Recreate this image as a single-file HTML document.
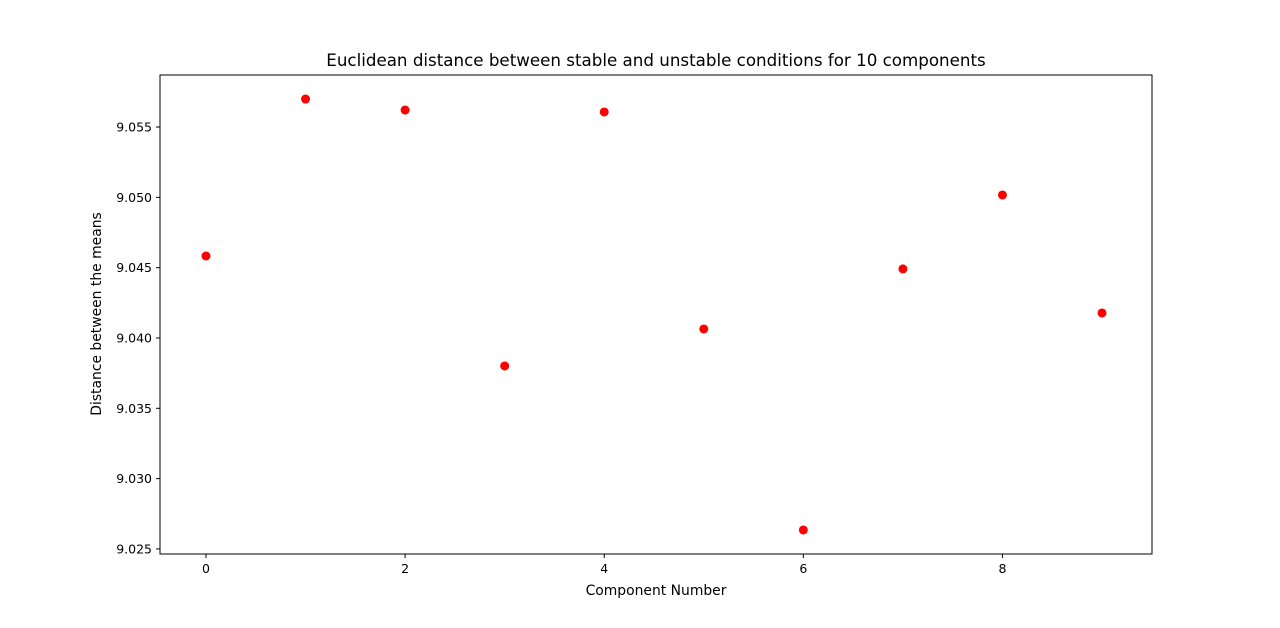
<!DOCTYPE html>
<html><head><meta charset="utf-8"><style>
body{margin:0;background:#fff;font-family:"Liberation Sans","DejaVu Sans",sans-serif;}
svg text{font-family:"DejaVu Sans","Liberation Sans",sans-serif;}
</style></head><body>
<svg id="chart" width="1280" height="623" xmlns="http://www.w3.org/2000/svg">
<rect width="1280" height="623" fill="#fff"/>
<text x="656" y="66" text-anchor="middle" font-size="16.7">Euclidean distance between stable and unstable conditions for 10 components</text>
<g id="plot"></g>
<rect x="160" y="75" width="992" height="479" fill="none" stroke="#000" stroke-width="1"/>
<text x="656" y="595" text-anchor="middle" font-size="13.9">Component Number</text>
<text transform="translate(101,314) rotate(-90)" text-anchor="middle" font-size="13.9">Distance between the means</text>
</svg>
<script>
const components=[0,1,2,3,4,5,6,7,8,9];
const distances=[9.04583,9.05699,9.05621,9.03801,9.05607,9.04064,9.02635,9.04491,9.05017,9.04178];
const xTicks=[0,2,4,6,8];
const yTicks=[9.025,9.030,9.035,9.040,9.045,9.050,9.055];
const yTickLabels=["9.025","9.030","9.035","9.040","9.045","9.050","9.055"];
const L=160,R=1152,T=75,B=554;
const xmin=-0.462,xmax=9.502;
const ymin=9.02464,ymax=9.0587;
const sx=v=>L+(v-xmin)/(xmax-xmin)*(R-L);
const sy=v=>B-(v-ymin)/(ymax-ymin)*(B-T);
const NS="http://www.w3.org/2000/svg";
const g=document.getElementById('plot');
function mk(t,a){const e=document.createElementNS(NS,t);for(const k in a)e.setAttribute(k,a[k]);g.appendChild(e);return e;}
xTicks.forEach(v=>{const x=sx(v);
const l=mk('line',{x1:x,x2:x,y1:B,y2:B+4,stroke:'#000'});


const t=mk('text',{x:x,y:B+19,'text-anchor':'middle','font-size':'12.5'});t.textContent=String(v);


});
yTicks.forEach((v,i)=>{const y=sy(v);
const l=mk('line',{x1:L-4,x2:L,y1:y,y2:y,stroke:'#000'});


const t=mk('text',{x:L-8,y:y+4.5,'text-anchor':'end','font-size':'12.5'});t.textContent=yTickLabels[i];


});
components.forEach((c,i)=>{
const p=mk('circle',{cx:sx(c),cy:sy(distances[i]),r:4.5,fill:'#ff0000'});


});
</script>
</body></html>
